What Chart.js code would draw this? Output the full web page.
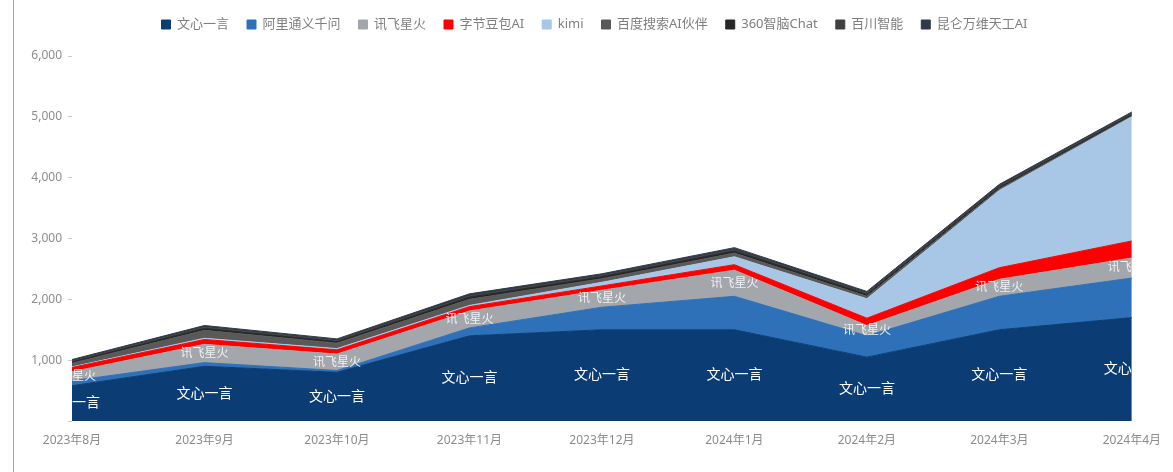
<!DOCTYPE html>
<html>
<head>
<meta charset="utf-8">
<script src="https://cdn.jsdelivr.net/npm/chart.js@4.4.1/dist/chart.umd.min.js"></script>
<style>
  html, body { margin: 0; padding: 0; background: #fff; }
  #wrap { position: relative; width: 1173px; height: 472px; }
  #edge { position: absolute; left: 13px; top: 0; width: 1px; height: 472px; background: #a6a6a6; }
</style>
</head>
<body>
<div id="wrap">
  <canvas id="areaChart" width="1173" height="472"></canvas>
  <div id="edge"></div>
</div>
<script>
const months = ["2023年8月", "2023年9月", "2023年10月", "2023年11月", "2023年12月",
                "2024年1月", "2024年2月", "2024年3月", "2024年4月"];
const yTicks = [0, 1000, 2000, 3000, 4000, 5000, 6000];

// monthly values per product, stacked bottom -> top
const wenxin   = [580, 900, 800, 1400, 1500, 1500, 1050, 1500, 1700];
const tongyi   = [80, 60, 30, 130, 370, 550, 350, 550, 650];
const xunfei   = [150, 300, 270, 280, 280, 430, 170, 280, 330];
const doubao   = [70, 80, 70, 70, 70, 90, 120, 190, 280];
const kimi     = [10, 20, 20, 20, 60, 130, 320, 1270, 2040];
const baidu    = [60, 130, 90, 100, 60, 60, 40, 25, 15];
const zhinao   = [20, 30, 25, 35, 30, 35, 30, 25, 20];
const baichuan = [15, 20, 20, 20, 20, 20, 20, 20, 20];
const tiangong = [25, 30, 25, 35, 30, 35, 30, 30, 25];

const series = [
  { name: "文心一言", data: wenxin, color: "#0b3d74" },
  { name: "阿里通义千问", data: tongyi, color: "#2e71b9" },
  { name: "讯飞星火", data: xunfei, color: "#a3a6aa" },
  { name: "字节豆包AI", data: doubao, color: "#ff0000" },
  { name: "kimi", data: kimi, color: "#a8c7e6" },
  { name: "百度搜索AI伙伴", data: baidu, color: "#595959" },
  { name: "360智脑Chat", data: zhinao, color: "#262626" },
  { name: "百川智能", data: baichuan, color: "#404040" },
  { name: "昆仑万维天工AI", data: tiangong, color: "#2f3b4c" }
];

const FONT = "'Noto Sans', 'Noto Sans CJK SC', sans-serif";

// series names written in the middle of some bands
const labelPlugin = {
  id: "bandLabels",
  afterDatasetsDraw(chart) {
    const { ctx, chartArea, scales } = chart;
    ctx.save();
    ctx.beginPath();
    ctx.rect(chartArea.left, chartArea.top, chartArea.right - chartArea.left, chartArea.bottom - chartArea.top);
    ctx.clip();
    ctx.textAlign = "center";
    ctx.textBaseline = "middle";
    [[0, 14, "#ffffff"], [2, 12, "#eef1f4"]].forEach(([idx, size, color]) => {
      const pts = chart.getDatasetMeta(idx).data;
      const below = idx > 0 ? chart.getDatasetMeta(idx - 1).data : null;
      ctx.font = size + "px " + FONT;
      ctx.fillStyle = color;
      pts.forEach((p, i) => {
        const base = below ? below[i].y : scales.y.getPixelForValue(0);
        ctx.fillText(series[idx].name, p.x, (p.y + base) / 2);
      });
    });
    ctx.restore();
  }
};

// extra room under the legend, and nudge it right a little
const legendGap = {
  id: "legendGap",
  beforeInit(chart) {
    const fit = chart.legend.fit;
    chart.legend.fit = function () {
      fit.bind(chart.legend)();
      this.height += 15;
    };
  },
  afterLayout(chart) {
    chart.legend.left += 28;
    chart.legend.right += 28;
  }
};

new Chart(document.getElementById("areaChart"), {
  type: "line",
  data: {
    labels: months,
    datasets: series.map((s, i) => ({
      label: s.name,
      data: s.data,
      backgroundColor: s.color,
      borderColor: s.color,
      borderWidth: 1,
      pointRadius: 0,
      tension: 0,
      fill: i === 0 ? "origin" : "-1"
    }))
  },
  options: {
    responsive: false,
    animation: false,
    layout: { padding: { left: 0, right: 40, top: 0, bottom: 0 } },
    plugins: {
      legend: {
        position: "top",
        labels: {
          boxWidth: 9,
          boxHeight: 9,
          padding: 18,
          color: "#7f7f7f",
          font: { size: 13, family: FONT }
        }
      },
      tooltip: { enabled: false }
    },
    scales: {
      x: {
        grid: { display: false, drawTicks: false },
        border: { display: false },
        ticks: {
          autoSkip: false,
          maxRotation: 0,
          padding: 12,
          color: "#8c8c8c",
          font: { size: 12, family: FONT }
        },
        afterFit(s) { s.height = 51; }
      },
      y: {
        stacked: true,
        min: yTicks[0],
        max: yTicks[yTicks.length - 1],
        grid: { drawOnChartArea: false, tickLength: 4, color: "#c8c8c8" },
        border: { display: false },
        ticks: {
          stepSize: 1000,
          padding: 6,
          color: "#8c8c8c",
          font: { size: 12, family: FONT },
          callback: (v) => (v === 0 ? "" : v.toLocaleString("en-US"))
        },
        afterFit(s) { s.width = 72; }
      }
    }
  },
  plugins: [labelPlugin, legendGap]
});
</script>
</body>
</html>
